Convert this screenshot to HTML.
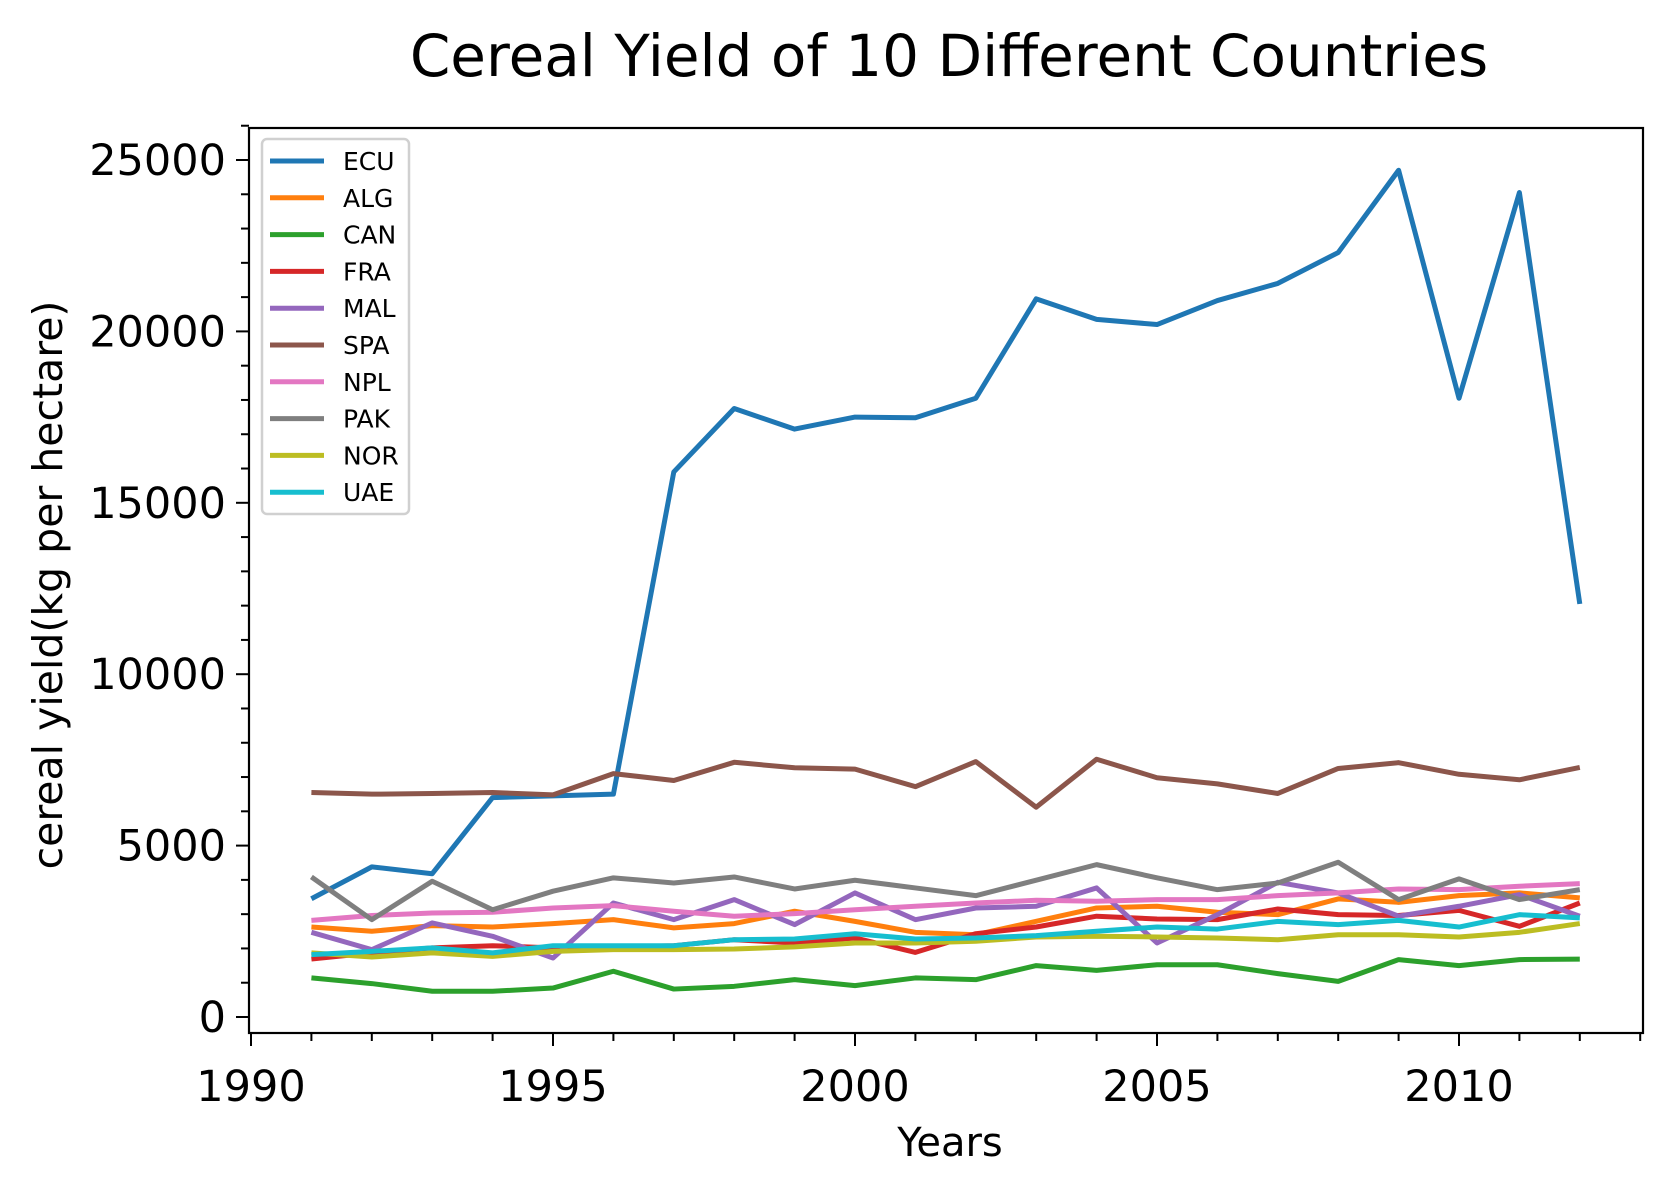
<!DOCTYPE html>
<html><head><meta charset="utf-8"><style>
body{margin:0;background:#fff}
svg{display:block;font-family:"DejaVu Sans","Liberation Sans",sans-serif}
</style></head><body>
<svg id="chart" width="1673" height="1189" viewBox="0 0 1673 1189" xmlns="http://www.w3.org/2000/svg">
<rect width="1673" height="1189" fill="#fff"/>
<text x="949" y="76" font-size="58" text-anchor="middle">Cereal Yield of 10 Different Countries</text>
<text x="950" y="1156" font-size="40" text-anchor="middle">Years</text>
<text transform="translate(62,585) rotate(-90)" font-size="41" text-anchor="middle">cereal yield(kg per hectare)</text>
<g id="ticks"></g>
<g id="series"></g>
<rect x="249" y="128" width="1394" height="905" fill="none" stroke="#000" stroke-width="2.2"/>
<g id="legend"></g>
</svg>
<script>
const years=[1991,1992,1993,1994,1995,1996,1997,1998,1999,2000,2001,2002,2003,2004,2005,2006,2007,2008,2009,2010,2011,2012];
const names=["ECU","ALG","CAN","FRA","MAL","SPA","NPL","PAK","NOR","UAE"];
const colors=["#1f77b4","#ff7f0e","#2ca02c","#d62728","#9467bd","#8c564b","#e377c2","#7f7f7f","#bcbd22","#17becf"];
const ECU=[3450,4380,4180,6400,6450,6500,15900,17750,17150,17500,17480,18050,20950,20350,20200,20900,21400,22300,24700,18050,24050,12050];
const ALG=[2625,2500,2665,2625,2725,2840,2600,2725,3085,2790,2470,2400,2790,3180,3230,3055,2985,3445,3345,3540,3620,3475];
const CAN=[1140,975,750,750,845,1335,815,895,1090,915,1140,1090,1500,1360,1525,1525,1265,1040,1675,1500,1675,1690];
const FRA=[1690,1870,2015,2080,2015,2045,2080,2255,2160,2305,1885,2430,2625,2940,2860,2840,3150,2985,2960,3110,2645,3325];
const MAL=[2470,1965,2745,2355,1720,3325,2840,3425,2695,3620,2840,3180,3230,3765,2160,2985,3930,3620,2940,3230,3570,2940];
const SPA=[6550,6500,6520,6550,6480,7100,6900,7430,7270,7230,6720,7450,6120,7520,6980,6800,6520,7250,7420,7080,6920,7280];
const NPL=[2820,2960,3035,3055,3180,3250,3085,2940,3015,3130,3230,3325,3405,3375,3425,3425,3540,3620,3735,3715,3815,3890];
const PAK=[4085,2840,3960,3130,3670,4060,3910,4085,3735,3990,3765,3540,3990,4445,4060,3715,3910,4515,3425,4030,3425,3715];
const NOR=[1870,1750,1870,1770,1915,1965,1965,1985,2045,2160,2160,2210,2335,2355,2335,2305,2255,2400,2400,2335,2470,2725];
const UAE=[1820,1915,2015,1870,2080,2080,2080,2255,2275,2430,2275,2305,2375,2500,2625,2565,2790,2695,2820,2625,2985,2890];
const seriesData=[ECU,ALG,CAN,FRA,MAL,SPA,NPL,PAK,NOR,UAE];
const yTicks=[0,5000,10000,15000,20000,25000];
const xTicks=[1990,1995,2000,2005,2010];
const NS="http://www.w3.org/2000/svg";
function X(y){return 251+60.4*(y-1990);}
function Y(v){return 1017-v*0.03428;}
function mk(tag,attrs,parent){const e=document.createElementNS(NS,tag);for(const k in attrs)e.setAttribute(k,attrs[k]);parent.appendChild(e);return e;}
const tg=document.getElementById('ticks');
for(let v=0;v<=26000;v+=1000){
  const major=v%5000===0;
  const t=mk('line',{x1:249,x2:major?236:241,y1:Y(v),y2:Y(v),stroke:'#000','stroke-width':2},tg);
  
  
}
yTicks.forEach(v=>{
  const t=mk('text',{x:226,y:Y(v)+15,'font-size':43,'text-anchor':'end'},tg);t.textContent=v;
  
  
});
for(let y=1990;y<=2013;y++){
  const major=y%5===0;
  const t=mk('line',{x1:X(y),x2:X(y),y1:1033,y2:major?1046:1041,stroke:'#000','stroke-width':2},tg);
  
  
}
xTicks.forEach(y=>{
  const t=mk('text',{x:X(y),y:1101,'font-size':43,'text-anchor':'middle'},tg);t.textContent=y;
  
  
});
const sg=document.getElementById('series');
seriesData.forEach((d,i)=>{
  const p=mk('polyline',{points:d.map((v,j)=>X(years[j])+','+Y(v)).join(' '),fill:'none',stroke:colors[i],'stroke-width':5,'stroke-linejoin':'round'},sg);
  
  
});
const lg=document.getElementById('legend');
const box=mk('rect',{x:262,y:139,width:147,height:375,rx:5,fill:'#fff','fill-opacity':0.8,stroke:'#d0d0d0','stroke-width':2.5},lg);


names.forEach((n,i)=>{
  const yy=161+i*36.8;
  const l=mk('line',{x1:270,x2:324,y1:yy,y2:yy,stroke:colors[i],'stroke-width':5},lg);
  
  
  const t=mk('text',{x:343,y:yy+9,'font-size':25},lg);t.textContent=n;
  
  
});
</script>
</body></html>
